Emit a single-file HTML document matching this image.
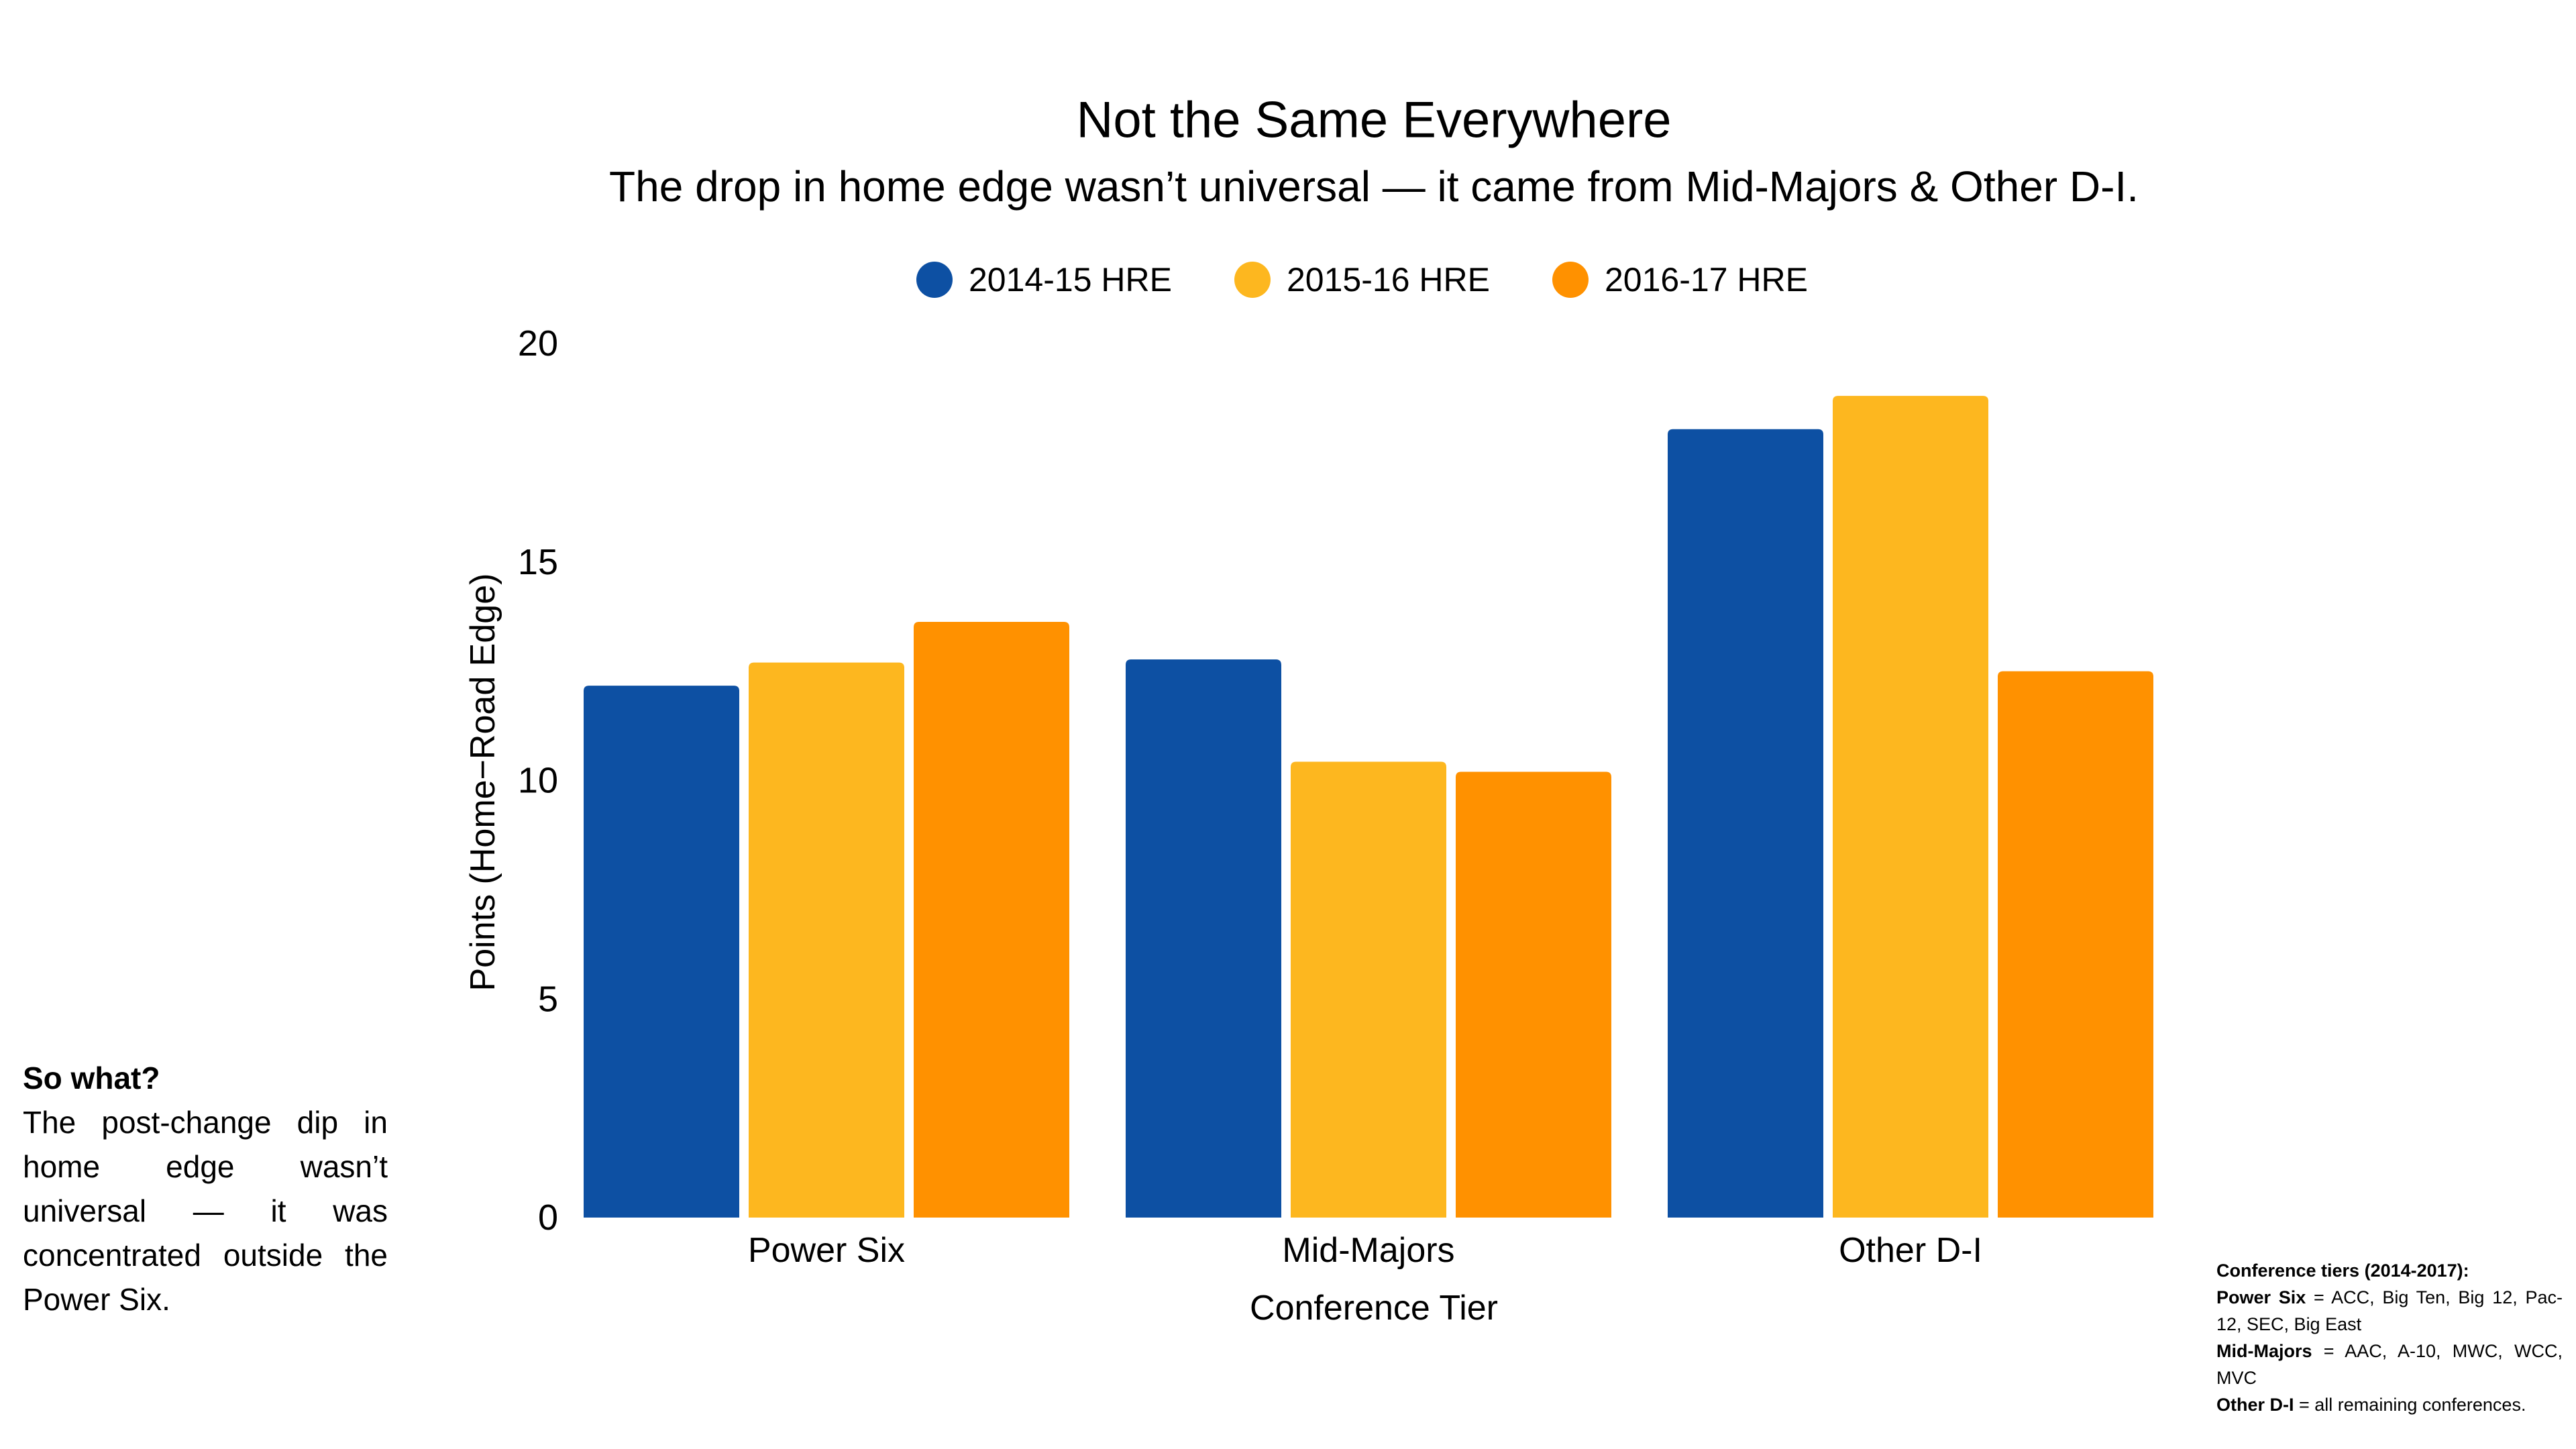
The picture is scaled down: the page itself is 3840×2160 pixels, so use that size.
<!DOCTYPE html>
<html><head><meta charset="utf-8"><style>
body{margin:0;background:#fff;}
svg{display:block;font-family:"Liberation Sans",sans-serif;}
.note{position:absolute;font-family:"Liberation Sans",sans-serif;color:#000;}
</style></head><body>
<div style="position:relative;width:3840px;height:2160px;overflow:hidden">
<svg id="chart" width="3840" height="2160">
<text x="2048" y="179" font-size="76" text-anchor="middle" dominant-baseline="central">Not the Same Everywhere</text>
<text x="2048" y="278" font-size="64" text-anchor="middle" dominant-baseline="central">The drop in home edge wasn’t universal — it came from Mid-Majors &amp; Other D-I.</text>
<g id="legend"></g>
<g id="yaxis"></g>
<g id="bars"></g>
<g id="xaxis"></g>
<text transform="translate(720,1166) rotate(-90)" font-size="52" text-anchor="middle" dominant-baseline="central">Points (Home−Road Edge)</text>
<text x="2048" y="1950" font-size="52" text-anchor="middle" dominant-baseline="central">Conference Tier</text>
</svg>
<div class="note" style="left:34px;top:1574px;width:544px;font-size:46px;line-height:66px;text-align:justify"><b>So what?</b><br>The post-change dip in home edge wasn’t universal — it was concentrated outside the Power Six.</div>
<div class="note" style="left:3304px;top:1874px;width:516px;font-size:27px;line-height:40px;text-align:justify"><b>Conference tiers (2014-2017):</b><br><b>Power Six</b> = ACC, Big Ten, Big 12, Pac-12, SEC, Big East<br><b>Mid-Majors</b> = AAC, A-10, MWC, WCC, MVC<br><b>Other D-I</b> = all remaining conferences.</div>
</div>
<script>
const categories = ["Power Six", "Mid-Majors", "Other D-I"];
const seriesNames = ["2014-15 HRE", "2015-16 HRE", "2016-17 HRE"];
const hre2014 = [12.17, 12.77, 18.04];
const hre2015 = [12.7, 10.43, 18.8];
const hre2016 = [13.63, 10.2, 12.5];
const yTicks = [0, 5, 10, 15, 20];
const colors = ["#0d50a3", "#fdb71f", "#ff9100"];
const series = [hre2014, hre2015, hre2016];
const NS = "http://www.w3.org/2000/svg";
const y0 = 1815, yUnit = (1815 - 512) / 20;
function yScale(v){ return y0 - v * yUnit; }
function xCenter(i){ return 1232 + i * 808; }
const barW = 232, barStep = 246;
function mk(tag, attrs, parent){ const e = document.createElementNS(NS, tag); for (const k in attrs) e.setAttribute(k, attrs[k]); parent.appendChild(e); return e; }
const yg = document.getElementById('yaxis');
yTicks.forEach(t => {
  const e = mk('text', {x: 832, y: yScale(t), 'font-size': 54, 'text-anchor': 'end', 'dominant-baseline': 'central'}, yg);
  
  
  e.textContent = t;
});
const bg = document.getElementById('bars');
categories.forEach((c, i) => {
  series.forEach((s, j) => {
    const x = xCenter(i) + (j - 1) * barStep - barW / 2;
    const top = yScale(s[i]), r = 8;
    const d = `M${x},${y0} L${x},${top + r} Q${x},${top} ${x + r},${top} L${x + barW - r},${top} Q${x + barW},${top} ${x + barW},${top + r} L${x + barW},${y0} Z`;
    const p = mk('path', {d: d, fill: colors[j]}, bg);
    
    
  });
});
const xg = document.getElementById('xaxis');
categories.forEach((c, i) => {
  const e = mk('text', {x: xCenter(i), y: 1864, 'font-size': 52, 'text-anchor': 'middle', 'dominant-baseline': 'central'}, xg);
  
  
  e.textContent = c;
});
const lg = document.getElementById('legend');
seriesNames.forEach((n, j) => {
  const cx = 1393 + j * 474;
  const c = mk('circle', {cx: cx, cy: 417, r: 27, fill: colors[j]}, lg);
  
  
  const t = mk('text', {x: cx + 51, y: 417, 'font-size': 50, 'dominant-baseline': 'central'}, lg);
  
  
  t.textContent = n;
});
</script>
</body></html>
